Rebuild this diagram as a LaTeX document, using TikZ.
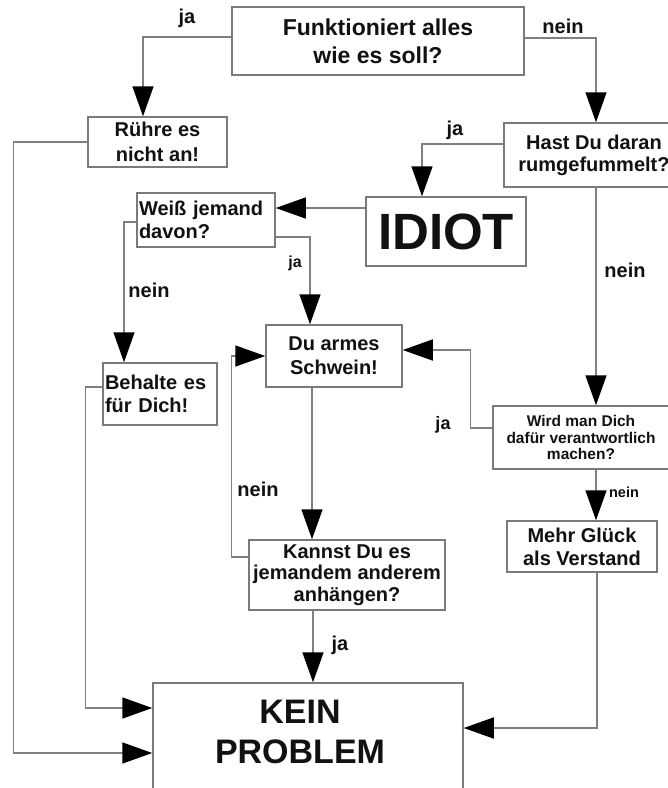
\documentclass[tikz,border=0pt]{standalone}
\usepackage{fontspec}
\setmainfont{Liberation Sans}
\usetikzlibrary{arrows.meta}
\definecolor{linegray}{HTML}{808080}
\definecolor{boxgray}{HTML}{7A7A7A}
\definecolor{ink}{HTML}{111111}
\begin{document}
\begin{tikzpicture}[x=1pt,y=-1pt,
  box/.style={draw=boxgray, line width=1.5pt, inner sep=0pt, align=center, text=ink,
    font=\bfseries\fontsize{20}{23.5}\selectfont},
  conn/.style={draw=linegray, line width=1.5pt, -{Triangle[length=30pt,width=21pt,color=black]}},
  plain/.style={draw=linegray, line width=1.5pt},
  lab/.style={font=\bfseries\fontsize{20}{24}\selectfont, inner sep=0pt, text=ink}]
\useasboundingbox[fill=white] (0,0) rectangle (668,788);

% boxes
\node[box, minimum width=292pt, minimum height=68pt, font=\bfseries\fontsize{23}{28}\selectfont] (F) at (378,41) {Funktioniert alles\\wie es soll?};
\node[box, minimum width=139pt, minimum height=50pt, font=\bfseries\fontsize{20}{25}\selectfont] (R) at (157.5,142) {Rühre es\\nicht an!};
\node[box, minimum width=180pt, minimum height=64pt, font=\bfseries\fontsize{20}{22}\selectfont] (H) at (594,155) {Hast Du daran\\rumgefummelt?};
\node[box, minimum width=160pt, minimum height=69pt, font=\bfseries\fontsize{51}{51}\selectfont] (I) at (446,231.5) {IDIOT};
\node[box, text width=134pt, inner xsep=2pt, align=left, minimum height=54pt, font=\bfseries\fontsize{20}{23}\selectfont] (W) at (206,220) {Weiß jemand\\davon?};
\node[box, minimum width=136pt, minimum height=62pt, font=\bfseries\fontsize{20}{24}\selectfont] (D) at (334,356) {Du armes\\Schwein!};
\node[box, text width=110pt, inner xsep=2pt, align=left, minimum height=62pt, font=\bfseries\fontsize{20}{23}\selectfont] (B) at (160,394) {Behalte es\\für Dich!};
\node[box, minimum width=196pt, minimum height=70pt, font=\bfseries\fontsize{20}{21.5}\selectfont] (K) at (347,575) {Kannst Du es\\jemandem anderem\\anhängen?};
\node[box, minimum width=176pt, minimum height=63pt, font=\bfseries\fontsize{15.5}{16.5}\selectfont] (WD) at (581,437.5) {Wird man Dich\\dafür verantwortlich\\machen?};
\node[box, minimum width=150pt, minimum height=51pt, font=\bfseries\fontsize{20}{23}\selectfont] (M) at (582,546.5) {Mehr Glück\\als Verstand};
\node[box, minimum width=310pt, minimum height=130pt] (KP) at (308,748) {};
\node[font=\bfseries\fontsize{34}{40}\selectfont, align=center, inner sep=0pt, text=ink] (KPT) at (300,732) {KEIN\\PROBLEM};

% labels
\node[lab] (l1) at (187,18) {ja};
\node[lab] (l2) at (563,26) {nein};
\node[lab] (l3) at (455,130) {ja};
\node[lab, font=\bfseries\fontsize{16}{16}\selectfont] (l4) at (295,263) {ja};
\node[lab] (l5) at (149,290) {nein};
\node[lab] (l6) at (625,270) {nein};
\node[lab, font=\bfseries\fontsize{18}{18}\selectfont] (l7) at (443,425) {ja};
\node[lab] (l8) at (258,489) {nein};
\node[lab, font=\bfseries\fontsize{14.5}{14.5}\selectfont] (l9) at (624,492) {nein};
\node[lab] (l10) at (340,645) {ja};

% connectors
\draw[conn] ([yshift=4pt]F.west) -| ([xshift=-14.5pt]R.north);
\draw[conn] ([yshift=3pt]F.east) -| ([xshift=2pt]H.north);
\draw[conn] ([yshift=11pt]H.west) -| ([xshift=-24pt]I.north);
\draw[conn] ([yshift=23.5pt]I.west) -- ([yshift=12pt]W.east);
\draw[conn] ([yshift=-17pt]W.east) -| ([xshift=-24pt]D.north);
\draw[conn] ([yshift=-2pt]W.west) -| ([xshift=-36pt]B.north);
\draw[conn] ([yshift=7pt]B.west) -- ++(-17,0) |- ([yshift=40pt]KP.west);
\draw[conn] (R.west) -- ++(-74,0) |- ([yshift=-5pt]KP.west);
\draw[conn] ([xshift=-22pt]D.south) -- ([xshift=-22pt]D.south |- K.north);
\draw[conn] ([yshift=18pt]K.west) -- ++(-17,0) |- (D.west);
\draw[conn] ([xshift=-34pt]K.south) -- ([xshift=-34pt]K.south |- KP.north);
\draw[conn] ([xshift=2pt]H.south) -- ([xshift=2pt]H.south |- WD.north);
\draw[conn] ([yshift=9.5pt]WD.west) -- ++(-22,0) |- ([yshift=6pt]D.east);
\draw[conn] ([xshift=15pt]WD.south) -- ([xshift=15pt]WD.south |- M.north);
\draw[conn] ([xshift=15pt]M.south) |- ([yshift=20pt]KP.east);
\end{tikzpicture}
\end{document}
